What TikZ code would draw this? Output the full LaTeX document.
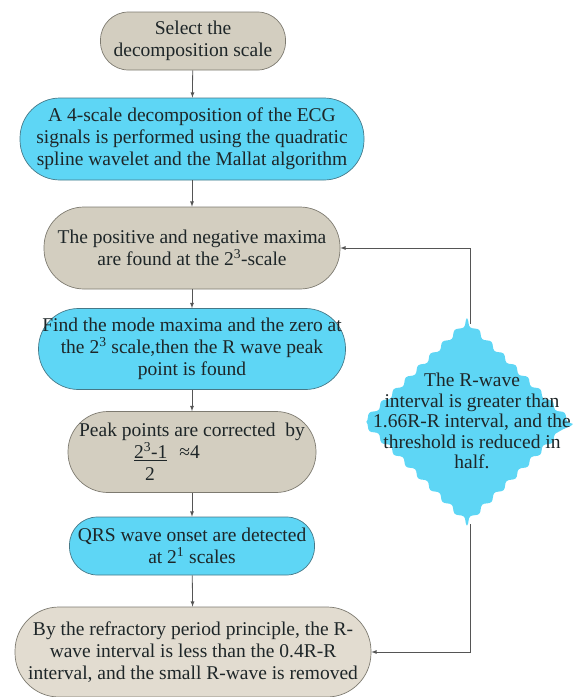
\documentclass[tikz,border=0pt]{standalone}
\usepackage{fontspec}
\setmainfont{Liberation Serif}
\usetikzlibrary{shapes.geometric,decorations.pathmorphing}
\definecolor{boxgray}{RGB}{211,206,192}
\definecolor{boxbeige}{RGB}{226,220,208}
\definecolor{boxcyan}{RGB}{94,214,245}
\definecolor{edgegray}{RGB}{125,122,112}
\definecolor{edgecyan}{RGB}{70,120,135}
\definecolor{txtdark}{RGB}{30,38,40}
\definecolor{linegray}{RGB}{85,85,85}
\begin{document}
\begin{tikzpicture}[x=1pt,y=-1pt,
		stepbox/.style={align=center, inner sep=0pt, text=txtdark, font=\fontsize{19.5}{22}\selectfont, line width=0.7pt},
		graybox/.style={stepbox, draw=edgegray, fill=boxgray},
		cyanbox/.style={stepbox, draw=edgecyan, fill=boxcyan},
		flow/.style={-latex, linegray, line width=0.8pt}]
	\useasboundingbox (0,0) rectangle (573,697);
	%coordinates
	\coordinate (S) at (193,41);
	\coordinate (D) at (192,139);
	\coordinate (M) at (192,248);
	\coordinate (Z) at (192,349);
	\coordinate (P) at (192,452);
	\coordinate (Q) at (192,546);
	\coordinate (R) at (193,652);
	\coordinate (C) at (470,424);
	%Boxes
	\node[graybox, minimum width=185pt, minimum height=58pt, rounded corners=28pt] (sel) at (S) {Select the\\decomposition scale};
	\node[cyanbox, minimum width=344pt, minimum height=82pt, rounded corners=40pt] (dec) at (D) {A 4-scale decomposition of the ECG\\signals is performed using the quadratic\\spline wavelet and the Mallat algorithm};
	\node[graybox, minimum width=296pt, minimum height=82pt, rounded corners=40pt] (max) at (M) {The positive and negative maxima\\are found at the 2\textsuperscript{3}-scale};
	\node[cyanbox, minimum width=307pt, minimum height=81pt, rounded corners=40pt] (mode) at (Z) {Find the mode maxima and the zero at\\the 2\textsuperscript{3} scale,then the R wave peak\\point is found};
	\node[graybox, minimum width=248pt, minimum height=81pt, rounded corners=40pt] (peak) at (P) {Peak points are corrected\ \ by\\\hspace*{-50pt}\underline{2\textsuperscript{3}-1}\hspace{12pt}≈4\\2\hspace*{84pt}};
	\node[cyanbox, minimum width=245pt, minimum height=58pt, rounded corners=28pt] (qrs) at (Q) {QRS wave onset are detected\\at 2\textsuperscript{1} scales};
	\node[graybox, fill=boxbeige, minimum width=356pt, minimum height=90pt, rounded corners=44pt] (refr) at (R) {By the refractory period principle, the R-\\wave interval is less than the 0.4R-R\\interval, and the small R-wave is removed};
	%Condition
	\node[diamond, fill=boxcyan, inner sep=0pt, minimum width=206pt, minimum height=200pt, decorate, decoration={snake, segment length=17pt, amplitude=2.2pt}] (cond) at (C) {};
	\node[stepbox, font=\fontsize{19.5}{20.5}\selectfont] (condtext) at ([xshift=2pt,yshift=3pt]C) {The R-wave\\interval is greater than\\1.66R-R interval, and the\\threshold is reduced in\\half.};
	%Arrows
	\draw[flow] (sel) -- (dec);
	\draw[flow] (dec) -- (max);
	\draw[flow] (max) -- (mode);
	\draw[flow] (mode) -- (peak);
	\draw[flow] (peak) -- (qrs);
	\draw[flow] (qrs) -- (refr);
	\draw[flow] (cond.north) |- (max.east);
	\draw[flow] (cond.south) |- (refr.east);
\end{tikzpicture}
\end{document}
